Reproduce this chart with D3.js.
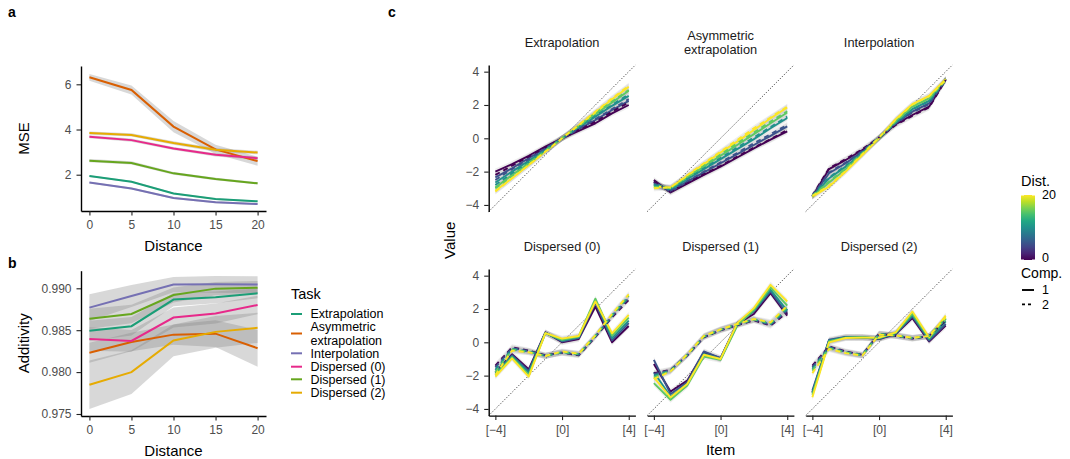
<!DOCTYPE html>
<html>
<head>
<meta charset="utf-8">
<title>MSE, additivity and item values by task</title>
<script src="https://cdn.jsdelivr.net/npm/d3@7"></script>
<style>
  body { margin: 0; background: #fff; }
  svg { display: block; font-family: "Liberation Sans", Arial, sans-serif; }
  .tick text { fill: #4d4d4d; font-size: 12px; }
  .tick line { stroke: #222; stroke-width: 1.1; }
  .domain { stroke: #000; stroke-width: 1.4; }
  .title { font-size: 15px; fill: #000; }
  .strip { font-size: 12.8px; fill: #1a1a1a; }
  .tag { font-size: 14px; font-weight: bold; }
  .legend { font-size: 12.5px; fill: #000; }
</style>
</head>
<body>
<svg id="chart" width="1070" height="459"></svg>
<script>
// ---- data ----
const tasks = ["Extrapolation", "Asymmetric extrapolation", "Interpolation",
               "Dispersed (0)", "Dispersed (1)", "Dispersed (2)"];
const taskColors = ["#1B9E77", "#D95F02", "#7570B3", "#E7298A", "#66A61E", "#E6AB02"];
const distances = [0, 5, 10, 15, 20];

// panel a: MSE per task
const mse = [
  [1.94, 1.69, 1.17, 0.92, 0.82],
  [6.31, 5.75, 4.13, 3.12, 2.60],
  [1.65, 1.39, 0.97, 0.78, 0.70],
  [3.68, 3.53, 3.16, 2.88, 2.73],
  [2.62, 2.52, 2.06, 1.81, 1.62],
  [3.84, 3.76, 3.40, 3.10, 2.98]
];
const mseCI = [
  [0.04, 0.04, 0.04, 0.04, 0.04],
  [0.15, 0.20, 0.25, 0.20, 0.20],
  [0.04, 0.04, 0.04, 0.04, 0.04],
  [0.07, 0.07, 0.07, 0.07, 0.07],
  [0.07, 0.07, 0.06, 0.06, 0.05],
  [0.07, 0.07, 0.08, 0.08, 0.08]
];
const mseTicks = [2, 4, 6];

// panel b: additivity per task
const additivity = [
  [0.98492, 0.98548, 0.98865, 0.98892, 0.98940],
  [0.98231, 0.98359, 0.98447, 0.98459, 0.98285],
  [0.98769, 0.98908, 0.99044, 0.99048, 0.99044],
  [0.98396, 0.98372, 0.98651, 0.98699, 0.98801],
  [0.98637, 0.98693, 0.98920, 0.98996, 0.99008],
  [0.97849, 0.98000, 0.98378, 0.98480, 0.98528]
];
const additivityCI = [
  [0.0012, 0.0011, 0.0008, 0.0007, 0.0006],
  [0.0012, 0.0011, 0.0012, 0.0016, 0.0022],
  [0.0016, 0.0013, 0.0009, 0.0010, 0.0010],
  [0.0014, 0.0013, 0.0012, 0.0012, 0.0011],
  [0.0012, 0.0011, 0.0009, 0.0008, 0.0008],
  [0.0029, 0.0026, 0.0019, 0.0019, 0.0018]
];
const additivityTicks = [0.975, 0.980, 0.985, 0.990];

// panel c: value per item, one row per distance (0, 5, 10, 15, 20)
const items = [-4, -3, -2, -1, 0, 1, 2, 3, 4];
const itemTickValues = [-4, 0, 4];
const itemTickLabels = ["[\u22124]", "[0]", "[4]"];
const valueTicks = [-4, -2, 0, 2, 4];
const facetTitles = ["Extrapolation", "Asymmetric\nextrapolation", "Interpolation",
                     "Dispersed (0)", "Dispersed (1)", "Dispersed (2)"];

const extrapSolid = [
  [-2.00, -1.55, -1.05, -0.50, 0, 0.45, 0.90, 1.50, 2.00],
  [-2.35, -1.80, -1.20, -0.60, 0, 0.55, 1.10, 1.70, 2.25],
  [-2.65, -2.00, -1.35, -0.70, 0, 0.65, 1.30, 1.95, 2.55],
  [-2.95, -2.20, -1.50, -0.75, 0, 0.72, 1.45, 2.15, 2.85],
  [-3.15, -2.40, -1.60, -0.80, 0, 0.78, 1.55, 2.35, 3.10]
];
const extrapDashed = [
  [-2.20, -1.65, -1.10, -0.55, 0, 0.50, 1.00, 1.60, 2.15],
  [-2.50, -1.85, -1.25, -0.62, 0, 0.58, 1.15, 1.75, 2.35],
  [-2.80, -2.10, -1.40, -0.70, 0, 0.68, 1.35, 2.00, 2.65],
  [-3.00, -2.25, -1.50, -0.75, 0, 0.74, 1.50, 2.20, 2.90],
  [-3.20, -2.40, -1.60, -0.80, 0, 0.80, 1.60, 2.40, 3.15]
];
const asymSolid = [
  [-2.50, -3.25, -2.72, -2.20, -1.70, -1.15, -0.60, -0.08, 0.42],
  [-2.60, -3.20, -2.60, -2.05, -1.50, -0.95, -0.40, 0.15, 0.72],
  [-2.70, -3.10, -2.45, -1.85, -1.25, -0.65, -0.05, 0.60, 1.22],
  [-2.80, -3.00, -2.35, -1.70, -1.05, -0.40, 0.25, 0.90, 1.55],
  [-2.90, -2.95, -2.25, -1.55, -0.85, -0.20, 0.50, 1.20, 1.85]
];
const asymDashed = [
  [-2.60, -3.20, -2.68, -2.15, -1.65, -1.10, -0.55, -0.05, 0.50],
  [-2.70, -3.15, -2.58, -2.00, -1.45, -0.88, -0.30, 0.25, 0.80],
  [-2.80, -3.05, -2.42, -1.80, -1.18, -0.55, 0.05, 0.68, 1.30],
  [-2.90, -3.00, -2.32, -1.65, -0.98, -0.30, 0.35, 1.00, 1.62],
  [-3.00, -2.95, -2.22, -1.50, -0.80, -0.10, 0.60, 1.25, 1.90]
];
const interpSolid = [
  [-3.50, -1.85, -1.30, -0.70, 0, 0.85, 1.40, 1.90, 3.55],
  [-3.50, -2.10, -1.50, -0.80, 0, 0.90, 1.60, 2.10, 3.55],
  [-3.50, -2.40, -1.70, -0.90, 0, 0.95, 1.75, 2.25, 3.55],
  [-3.50, -2.65, -1.85, -0.95, 0, 1.05, 1.90, 2.40, 3.55],
  [-3.50, -2.90, -2.00, -1.00, 0, 1.15, 2.05, 2.55, 3.55]
];
const interpDashed = [
  [-3.45, -1.80, -1.25, -0.65, 0.05, 0.80, 1.35, 1.85, 3.50],
  [-3.45, -2.05, -1.45, -0.75, 0.05, 0.88, 1.55, 2.05, 3.50],
  [-3.45, -2.35, -1.65, -0.85, 0.05, 0.95, 1.72, 2.22, 3.50],
  [-3.45, -2.60, -1.80, -0.90, 0.05, 1.02, 1.88, 2.38, 3.50],
  [-3.45, -2.85, -1.95, -0.95, 0.05, 1.12, 2.02, 2.52, 3.50]
];
const disp0Solid = [
  [-1.80, -0.72, -1.62, 0.60, 0.00, 0.20, 2.15, 0.00, 0.98],
  [-1.85, -0.78, -1.72, 0.58, 0.05, 0.25, 2.35, 0.12, 1.15],
  [-1.90, -0.84, -1.82, 0.56, 0.10, 0.30, 2.50, 0.25, 1.30],
  [-1.98, -0.90, -1.95, 0.55, 0.15, 0.35, 2.62, 0.40, 1.48],
  [-2.06, -0.96, -2.06, 0.55, 0.22, 0.38, 2.45, 0.54, 1.64]
];
const disp0Dashed = [
  [-1.40, -0.30, -0.50, -0.78, -0.62, -0.78, 0.32, 1.50, 2.55],
  [-1.50, -0.35, -0.52, -0.80, -0.62, -0.75, 0.35, 1.55, 2.65],
  [-1.65, -0.40, -0.55, -0.82, -0.60, -0.72, 0.38, 1.60, 2.75],
  [-1.80, -0.45, -0.58, -0.82, -0.58, -0.70, 0.40, 1.65, 2.80],
  [-1.95, -0.50, -0.60, -0.82, -0.55, -0.68, 0.42, 1.70, 2.88]
];
const disp1Solid = [
  [-1.30, -2.95, -2.30, -0.60, -0.95, 1.10, 1.70, 2.95, 1.60],
  [-1.05, -3.10, -2.40, -0.55, -0.95, 1.15, 1.85, 3.05, 1.70],
  [-1.80, -3.25, -2.50, -0.70, -1.00, 1.05, 1.90, 3.15, 1.90],
  [-2.45, -3.45, -2.60, -0.85, -1.05, 1.00, 1.95, 3.30, 2.20],
  [-2.10, -3.30, -2.50, -0.75, -1.00, 1.15, 2.05, 3.45, 2.45]
];
const disp1Dashed = [
  [-1.85, -1.65, -0.80, 0.30, 0.72, 1.02, 1.32, 1.00, 1.80],
  [-1.90, -1.68, -0.78, 0.32, 0.74, 1.05, 1.35, 1.05, 1.90],
  [-2.00, -1.70, -0.76, 0.34, 0.75, 1.06, 1.36, 1.10, 2.00],
  [-2.10, -1.72, -0.74, 0.36, 0.76, 1.08, 1.38, 1.15, 2.10],
  [-2.20, -1.75, -0.72, 0.38, 0.78, 1.10, 1.40, 1.20, 2.20]
];
const disp2Solid = [
  [-3.00, 0.10, 0.30, 0.28, 0.20, 0.50, 1.45, 0.05, 1.00],
  [-2.90, 0.15, 0.32, 0.30, 0.22, 0.52, 1.55, 0.10, 1.10],
  [-3.05, 0.10, 0.30, 0.30, 0.22, 0.55, 1.62, 0.18, 1.25],
  [-3.15, 0.05, 0.28, 0.30, 0.25, 0.58, 1.72, 0.25, 1.40],
  [-3.30, 0.00, 0.26, 0.28, 0.28, 0.60, 1.85, 0.30, 1.60]
];
const disp2Dashed = [
  [-1.40, -0.25, -0.55, -0.75, 0.52, 0.38, 0.22, 0.38, 1.30],
  [-1.50, -0.28, -0.58, -0.76, 0.52, 0.40, 0.24, 0.38, 1.35],
  [-1.60, -0.32, -0.60, -0.77, 0.50, 0.40, 0.25, 0.38, 1.40],
  [-1.70, -0.36, -0.62, -0.78, 0.48, 0.42, 0.26, 0.38, 1.45],
  [-1.85, -0.40, -0.65, -0.80, 0.46, 0.42, 0.27, 0.38, 1.50]
];
const facetSolid = [extrapSolid, asymSolid, interpSolid, disp0Solid, disp1Solid, disp2Solid];
const facetDashed = [extrapDashed, asymDashed, interpDashed, disp0Dashed, disp1Dashed, disp2Dashed];

// ---- drawing ----
const svg = d3.select('#chart');
const distColor = d => d3.interpolateViridis(d / 20);

const xDist = d3.scaleLinear().domain([-1, 21]).range([81, 266]);

function linePanel(yScale, values, cis, ticks, fmt, yTitle, axisY) {
  const g = svg.append('g');
  const area = d3.area()
    .x((d, i) => xDist(distances[i]))
    .y0(d => yScale(d[0] - d[1]))
    .y1(d => yScale(d[0] + d[1]));
  const line = d3.line()
    .x((d, i) => xDist(distances[i]))
    .y(d => yScale(d));

  values.forEach((v, t) => {
    g.append('path')
      .attr('d', area(v.map((x, i) => [x, cis[t][i]])))
      .attr('fill', '#7f7f7f')
      .attr('fill-opacity', 0.3);
  });
  values.forEach((v, t) => {
    g.append('path')
      .attr('d', line(v))
      .attr('fill', 'none')
      .attr('stroke', taskColors[t])
      .attr('stroke-width', 2);
  });

  g.append('g')
    .attr('transform', `translate(81,0)`)
    .call(d3.axisLeft(yScale).tickValues(ticks).tickFormat(fmt).tickSize(4.5).tickSizeOuter(0).tickPadding(5));
  g.append('g')
    .attr('transform', `translate(0,${axisY})`)
    .call(d3.axisBottom(xDist).tickValues(distances).tickSize(4.5).tickSizeOuter(0).tickPadding(5));

  const yr = yScale.range();
  g.append('text')
    .attr('class', 'title')
    .attr('text-anchor', 'middle')
    .attr('transform', `translate(29,${(yr[0] + yr[1]) / 2}) rotate(-90)`)
    .text(yTitle);
  g.append('text')
    .attr('class', 'title')
    .attr('text-anchor', 'middle')
    .attr('x', (81 + 266) / 2)
    .attr('y', axisY + 40)
    .text('Distance');
}

const yMse = d3.scaleLinear().domain([0.394, 6.81]).range([211, 66]);
linePanel(yMse, mse, mseCI, mseTicks, d3.format('d'), 'MSE', 211);

const yAdd = d3.scaleLinear().domain([0.97476, 0.9921]).range([416, 270.7]);
linePanel(yAdd, additivity, additivityCI, additivityTicks, d3.format('.3f'), 'Additivity', 416);

// panel tags
svg.append('text').attr('class', 'tag').attr('x', 8).attr('y', 17).text('a');
svg.append('text').attr('class', 'tag').attr('x', 8).attr('y', 268).text('b');
svg.append('text').attr('class', 'tag').attr('x', 388).attr('y', 17).text('c');

// task legend
const leg = svg.append('g');
leg.append('text').attr('class', 'title').attr('x', 291).attr('y', 299).style('font-size', '14.5px').text('Task');
const keyY = [314, 333.5, 353.3, 366.7, 379.3, 392.7];
tasks.forEach((t, i) => {
  leg.append('line')
    .attr('x1', 291).attr('x2', 302)
    .attr('y1', keyY[i]).attr('y2', keyY[i])
    .attr('stroke', taskColors[i]).attr('stroke-width', 2);
  const lines = t === 'Asymmetric extrapolation' ? ['Asymmetric', 'extrapolation'] : [t];
  lines.forEach((s, j) => {
    leg.append('text')
      .attr('class', 'legend')
      .attr('x', 310.5)
      .attr('y', keyY[i] + 4.4 + (j - (lines.length - 1) / 2) * 13.4)
      .text(s);
  });
});

// facets
const facetW = 146.7, facetH = 146.6;
const facetLeft = [488.7, 647.2, 805.7];
const facetTop = [65, 269];

facetTitles.forEach((title, f) => {
  const col = f % 3, row = Math.floor(f / 3);
  const left = facetLeft[col], top = facetTop[row];
  const x = d3.scaleLinear().domain([-4.4, 4.4]).range([left, left + facetW]);
  const y = d3.scaleLinear().domain([-4.4, 4.4]).range([top + facetH, top]);
  const g = svg.append('g');

  // strip title
  const parts = title.split('\n');
  parts.forEach((p, j) => {
    g.append('text')
      .attr('class', 'strip')
      .attr('text-anchor', 'middle')
      .attr('x', left + facetW / 2)
      .attr('y', top - 18.3 + (j - (parts.length - 1) / 2) * 13.6)
      .text(p);
  });

  // identity line
  g.append('line')
    .attr('x1', x(-4.4)).attr('y1', y(-4.4))
    .attr('x2', x(4.4)).attr('y2', y(4.4))
    .attr('stroke', '#000').attr('stroke-width', 0.7)
    .attr('stroke-dasharray', '1.2,1.6');

  const area = d3.area()
    .x((d, i) => x(items[i]))
    .y0(d => y(d - 0.18))
    .y1(d => y(d + 0.18));
  const line = d3.line()
    .x((d, i) => x(items[i]))
    .y(d => y(d));

  [facetSolid[f], facetDashed[f]].forEach(set => {
    set.forEach(v => {
      g.append('path').attr('d', area(v))
        .attr('fill', '#7f7f7f').attr('fill-opacity', 0.13);
    });
  });
  [facetSolid[f], facetDashed[f]].forEach((set, c) => {
    set.forEach((v, k) => {
      g.append('path').attr('d', line(v))
        .attr('fill', 'none')
        .attr('stroke', distColor(distances[k]))
        .attr('stroke-width', 1.9)
        .attr('stroke-linejoin', 'round')
        .attr('stroke-dasharray', c === 1 ? '5,4' : null);
    });
  });

  if (col === 0) {
    g.append('g')
      .attr('transform', `translate(${left},0)`)
      .call(d3.axisLeft(y).tickValues(valueTicks).tickSize(4.5).tickSizeOuter(0).tickPadding(5));
  }
  if (row === 1) {
    g.append('g')
      .attr('transform', `translate(0,${top + facetH})`)
      .call(d3.axisBottom(x).tickValues(itemTickValues)
        .tickFormat((d, i) => itemTickLabels[i]).tickSize(4.5).tickSizeOuter(0).tickPadding(5));
  }
});

svg.append('text').attr('class', 'title').attr('text-anchor', 'middle')
  .attr('transform', 'translate(455,240.3) rotate(-90)').text('Value');
svg.append('text').attr('class', 'title').attr('text-anchor', 'middle')
  .attr('x', facetLeft[1] + facetW / 2).attr('y', 455).text('Item');

// colour bar legend
const defs = svg.append('defs');
const grad = defs.append('linearGradient').attr('id', 'viridis')
  .attr('x1', 0).attr('y1', 1).attr('x2', 0).attr('y2', 0);
d3.range(0, 1.001, 0.1).forEach(t => {
  grad.append('stop').attr('offset', t).attr('stop-color', d3.interpolateViridis(t));
});
const cb = svg.append('g');
cb.append('text').attr('class', 'title').attr('x', 1021).attr('y', 186).style('font-size', '14.5px').text('Dist.');
cb.append('rect').attr('x', 1021).attr('y', 195).attr('width', 14).attr('height', 65).attr('fill', 'url(#viridis)');
const cbY = d3.scaleLinear().domain([0, 20]).range([260, 195]);
[0, 20].forEach(d => {
  cb.append('line').attr('x1', 1021).attr('x2', 1024).attr('y1', cbY(d)).attr('y2', cbY(d))
    .attr('stroke', '#fff').attr('stroke-width', 1);
  cb.append('line').attr('x1', 1032).attr('x2', 1035).attr('y1', cbY(d)).attr('y2', cbY(d))
    .attr('stroke', '#fff').attr('stroke-width', 1);
  cb.append('text').attr('class', 'legend').attr('x', 1042).attr('y', cbY(d) + (d === 0 ? 2 : 3.8)).text(d);
});
cb.append('text').attr('class', 'title').attr('x', 1021).attr('y', 278).style('font-size', '14px').text('Comp.');
[['1', null], ['2', '3,3']].forEach(([lab, dash], i) => {
  const yy = 290 + i * 14.4;
  cb.append('line').attr('x1', 1022).attr('x2', 1034).attr('y1', yy).attr('y2', yy)
    .attr('stroke', '#000').attr('stroke-width', 1.9).attr('stroke-dasharray', dash);
  cb.append('text').attr('class', 'legend').attr('x', 1042).attr('y', yy + 4.4).text(lab);
});
</script>
</body>
</html>
